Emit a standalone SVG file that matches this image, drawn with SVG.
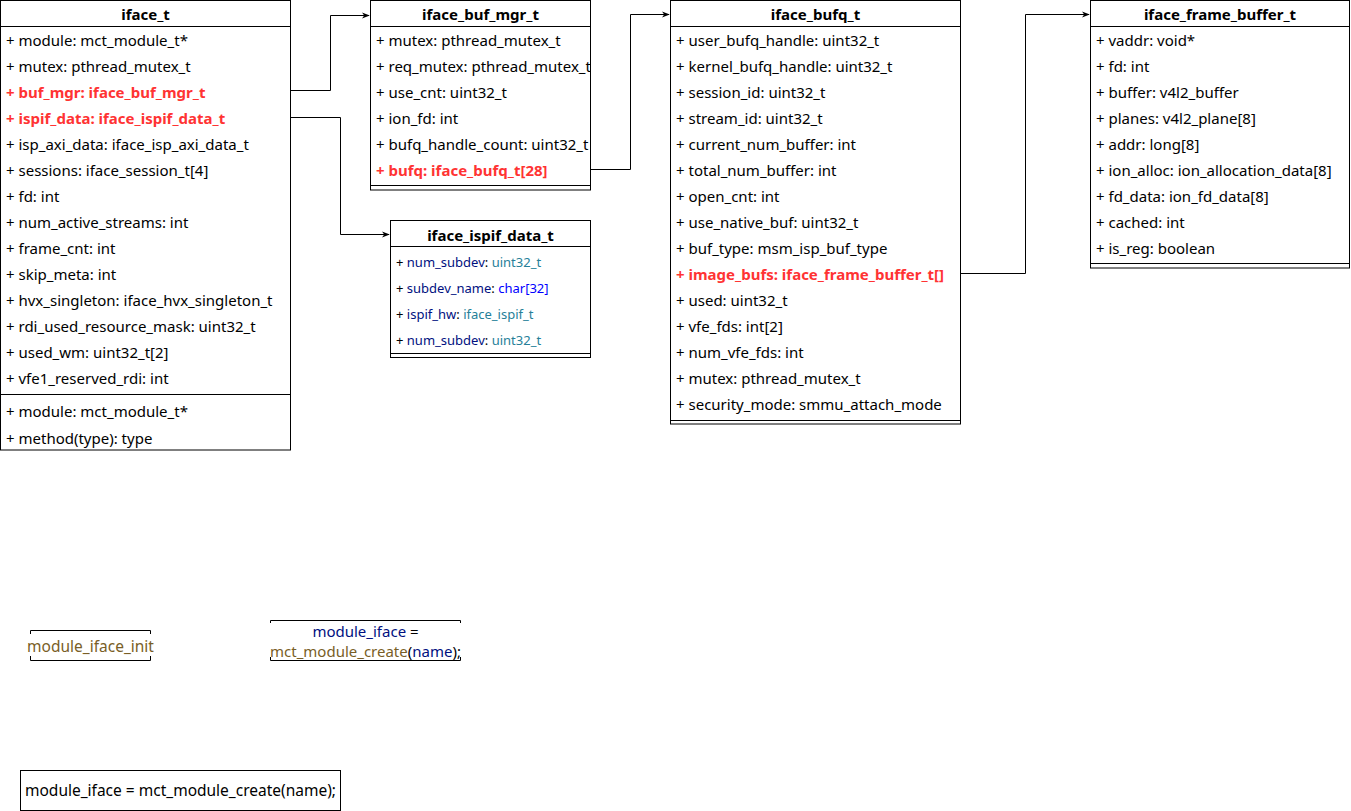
<svg xmlns="http://www.w3.org/2000/svg" width="1351" height="811" viewBox="0 0 1351 811">
  <style>
    .box { fill: #ffffff; stroke: #000000; stroke-width: 1; }
    .sep { stroke: #000000; stroke-width: 1; fill: none; }
    .title { font-family: "Noto Sans", "Liberation Sans", sans-serif; font-size: 15px; font-weight: bold; fill: #000000; text-anchor: middle; }
    .attr { font-family: "Noto Sans", "Liberation Sans", sans-serif; font-size: 15px; fill: #000000; }
    .hot { fill: #FF3333; font-weight: bold; }
    .small { font-family: "Noto Sans", "Liberation Sans", sans-serif; font-size: 13px; fill: #000000; }
    .var { fill: #001080; }
    .typ { fill: #267F99; }
    .kw { fill: #0000FF; }
    .fn { fill: #795E26; }
    .code { font-family: "Noto Sans", "Liberation Sans", sans-serif; font-size: 15.5px; }
    .code2 { font-family: "Noto Sans", "Liberation Sans", sans-serif; font-size: 15px; }
    .edge { stroke: #000000; stroke-width: 1; fill: none; marker-end: url(#arrow); }
  </style>
  <defs>
    <marker id="arrow" viewBox="0 0 10 10" refX="9" refY="5" markerWidth="8" markerHeight="8" markerUnits="userSpaceOnUse" orient="auto">
      <path d="M0,1 L10,5 L0,9 L3,5 Z" fill="#000000"/>
    </marker>
    <clipPath id="clipBufMgr"><rect x="371" y="27" width="219" height="158"/></clipPath>
  </defs>

  <rect width="1351" height="811" fill="#ffffff"/>

  <!-- connectors -->
  <g id="connectors">
    <path class="edge" d="M290.5,90.5 H330.5 V15.5 H369"/>
    <path class="edge" d="M290.5,117.5 H340.5 V234.5 H389"/>
    <path class="edge" d="M590.5,169.5 H630.5 V14.5 H669"/>
    <path class="edge" d="M960.5,273.5 H1025.5 V14.5 H1089"/>
  </g>

  <!-- iface_t -->
  <g id="iface_t">
    <rect class="box" x="0.5" y="0.5" width="290" height="449.5"/>
    <line class="sep" x1="0.5" y1="26.5" x2="290.5" y2="26.5"/>
    <text class="title" x="145.5" y="20">iface_t</text>
    <text class="attr" x="6" y="46">+ module: mct_module_t*</text>
    <text class="attr" x="6" y="72">+ mutex: pthread_mutex_t</text>
    <text class="attr hot" x="6" y="98">+ buf_mgr: iface_buf_mgr_t</text>
    <text class="attr hot" x="6" y="124">+ ispif_data: iface_ispif_data_t</text>
    <text class="attr" x="6" y="150">+ isp_axi_data: iface_isp_axi_data_t</text>
    <text class="attr" x="6" y="176">+ sessions: iface_session_t[4]</text>
    <text class="attr" x="6" y="202">+ fd: int</text>
    <text class="attr" x="6" y="228">+ num_active_streams: int</text>
    <text class="attr" x="6" y="254">+ frame_cnt: int</text>
    <text class="attr" x="6" y="280">+ skip_meta: int</text>
    <text class="attr" x="6" y="306">+ hvx_singleton: iface_hvx_singleton_t</text>
    <text class="attr" x="6" y="332">+ rdi_used_resource_mask: uint32_t</text>
    <text class="attr" x="6" y="358">+ used_wm: uint32_t[2]</text>
    <text class="attr" x="6" y="384">+ vfe1_reserved_rdi: int</text>
    <line class="sep" x1="0.5" y1="394.5" x2="290.5" y2="394.5"/>
    <text class="attr" x="6" y="417">+ module: mct_module_t*</text>
    <text class="attr" x="6" y="444">+ method(type): type</text>
  </g>

  <!-- iface_buf_mgr_t -->
  <g id="iface_buf_mgr_t">
    <rect class="box" x="370.5" y="0.5" width="220" height="189.5"/>
    <line class="sep" x1="370.5" y1="26.5" x2="590.5" y2="26.5"/>
    <line class="sep" x1="370.5" y1="185.5" x2="590.5" y2="185.5"/>
    <text class="title" x="480.5" y="20">iface_buf_mgr_t</text>
    <g clip-path="url(#clipBufMgr)">
      <text class="attr" x="376" y="46">+ mutex: pthread_mutex_t</text>
      <text class="attr" x="376" y="72">+ req_mutex: pthread_mutex_t</text>
      <text class="attr" x="376" y="98">+ use_cnt: uint32_t</text>
      <text class="attr" x="376" y="124">+ ion_fd: int</text>
      <text class="attr" x="376" y="150">+ bufq_handle_count: uint32_t</text>
      <text class="attr hot" x="376" y="176">+ bufq: iface_bufq_t[28]</text>
    </g>
  </g>

  <!-- iface_ispif_data_t -->
  <g id="iface_ispif_data_t">
    <rect class="box" x="390.5" y="220.5" width="200" height="137"/>
    <line class="sep" x1="390.5" y1="246.5" x2="590.5" y2="246.5"/>
    <line class="sep" x1="390.5" y1="353.5" x2="590.5" y2="353.5"/>
    <text class="title" x="490.5" y="241">iface_ispif_data_t</text>
    <text class="small" x="396" y="267">+ <tspan class="var">num_subdev</tspan>: <tspan class="typ">uint32_t</tspan></text>
    <text class="small" x="396" y="293">+ <tspan class="var">subdev_name</tspan>: <tspan class="kw">char[32]</tspan></text>
    <text class="small" x="396" y="319">+ <tspan class="var">ispif_hw</tspan>: <tspan class="typ">iface_ispif_t</tspan></text>
    <text class="small" x="396" y="345">+ <tspan class="var">num_subdev</tspan>: <tspan class="typ">uint32_t</tspan></text>
  </g>

  <!-- iface_bufq_t -->
  <g id="iface_bufq_t">
    <rect class="box" x="670.5" y="0.5" width="290" height="423.5"/>
    <line class="sep" x1="670.5" y1="26.5" x2="960.5" y2="26.5"/>
    <line class="sep" x1="670.5" y1="420.5" x2="960.5" y2="420.5"/>
    <text class="title" x="815.5" y="20">iface_bufq_t</text>
    <text class="attr" x="676" y="46">+ user_bufq_handle: uint32_t</text>
    <text class="attr" x="676" y="72">+ kernel_bufq_handle: uint32_t</text>
    <text class="attr" x="676" y="98">+ session_id: uint32_t</text>
    <text class="attr" x="676" y="124">+ stream_id: uint32_t</text>
    <text class="attr" x="676" y="150">+ current_num_buffer: int</text>
    <text class="attr" x="676" y="176">+ total_num_buffer: int</text>
    <text class="attr" x="676" y="202">+ open_cnt: int</text>
    <text class="attr" x="676" y="228">+ use_native_buf: uint32_t</text>
    <text class="attr" x="676" y="254">+ buf_type: msm_isp_buf_type</text>
    <text class="attr hot" x="676" y="280">+ image_bufs: iface_frame_buffer_t[]</text>
    <text class="attr" x="676" y="306">+ used: uint32_t</text>
    <text class="attr" x="676" y="332">+ vfe_fds: int[2]</text>
    <text class="attr" x="676" y="358">+ num_vfe_fds: int</text>
    <text class="attr" x="676" y="384">+ mutex: pthread_mutex_t</text>
    <text class="attr" x="676" y="410">+ security_mode: smmu_attach_mode</text>
  </g>

  <!-- iface_frame_buffer_t -->
  <g id="iface_frame_buffer_t">
    <rect class="box" x="1090.5" y="0.5" width="259" height="267.5"/>
    <line class="sep" x1="1090.5" y1="26.5" x2="1349.5" y2="26.5"/>
    <line class="sep" x1="1090.5" y1="263.5" x2="1349.5" y2="263.5"/>
    <text class="title" x="1220" y="20">iface_frame_buffer_t</text>
    <text class="attr" x="1096" y="46">+ vaddr: void*</text>
    <text class="attr" x="1096" y="72">+ fd: int</text>
    <text class="attr" x="1096" y="98">+ buffer: v4l2_buffer</text>
    <text class="attr" x="1096" y="124">+ planes: v4l2_plane[8]</text>
    <text class="attr" x="1096" y="150">+ addr: long[8]</text>
    <text class="attr" x="1096" y="176">+ ion_alloc: ion_allocation_data[8]</text>
    <text class="attr" x="1096" y="202">+ fd_data: ion_fd_data[8]</text>
    <text class="attr" x="1096" y="228">+ cached: int</text>
    <text class="attr" x="1096" y="254">+ is_reg: boolean</text>
  </g>

  <!-- code snippet: module_iface_init -->
  <g id="module_iface_init">
    <path class="sep" d="M30.5,634 V630.5 H150.5 V634"/>
    <path class="sep" d="M30.5,656 V660.5 H150.5 V656"/>
    <text class="code fn" x="90.5" y="651.5" text-anchor="middle">module_iface_init</text>
  </g>

  <!-- code snippet: highlighted create call -->
  <g id="module_create_highlight">
    <path class="sep" d="M270.5,623 V620.5 H460.5 V623"/>
    <path class="sep" d="M270.5,657 V660.5 H460.5 V657"/>
    <text class="code2" x="365.5" y="636.5" text-anchor="middle"><tspan class="var">module_iface</tspan> =</text>
    <text class="code2" x="365.5" y="657" text-anchor="middle"><tspan class="fn">mct_module_create</tspan>(<tspan class="var">name</tspan>);</text>
  </g>

  <!-- code snippet: plain create call -->
  <g id="module_create_plain">
    <rect class="box" x="20.5" y="770.5" width="320" height="40"/>
    <text class="code" x="180.5" y="796" text-anchor="middle">module_iface = mct_module_create(name);</text>
  </g>
</svg>
